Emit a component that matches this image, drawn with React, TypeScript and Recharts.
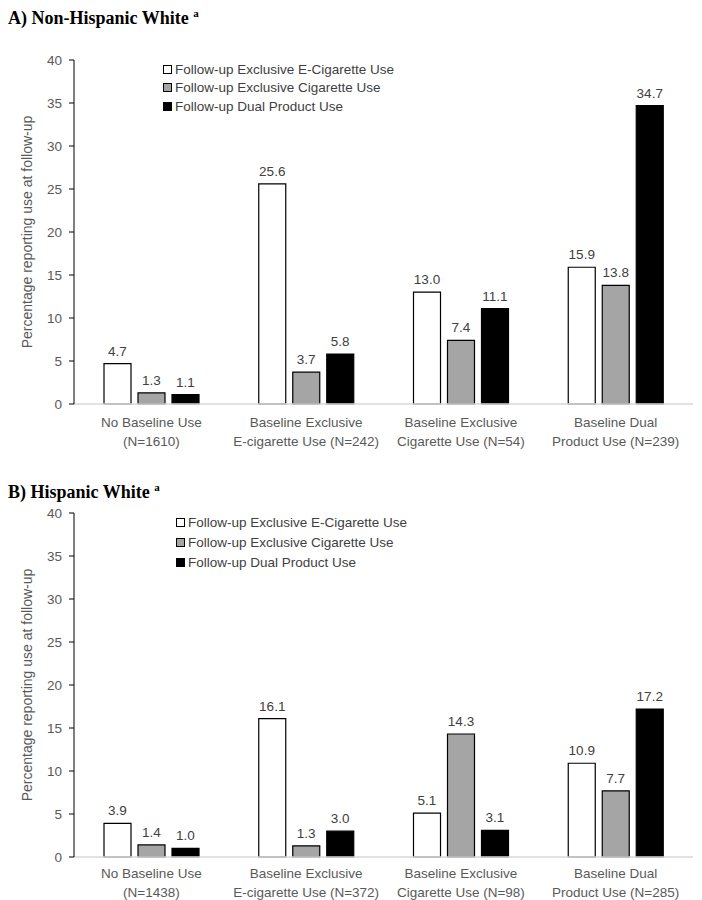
import React from "react";
import { BarChart, Bar, XAxis, YAxis, Legend, LabelList } from "recharts";

const seriesNames = [
  "Follow-up Exclusive E-Cigarette Use",
  "Follow-up Exclusive Cigarette Use",
  "Follow-up Dual Product Use",
];
const seriesKeys = ["ecig", "cig", "dual"];
const seriesFills = ["#ffffff", "#a5a5a5", "#000000"];

const yTicks = [0, 5, 10, 15, 20, 25, 30, 35, 40];

const categoriesA = [
  "No Baseline Use\n(N=1610)",
  "Baseline Exclusive\nE-cigarette Use (N=242)",
  "Baseline Exclusive\nCigarette Use (N=54)",
  "Baseline Dual\nProduct Use (N=239)",
];
const ecigA = [4.7, 25.6, 13.0, 15.9];
const cigA = [1.3, 3.7, 7.4, 13.8];
const dualA = [1.1, 5.8, 11.1, 34.7];

const categoriesB = [
  "No Baseline Use\n(N=1438)",
  "Baseline Exclusive\nE-cigarette Use (N=372)",
  "Baseline Exclusive\nCigarette Use (N=98)",
  "Baseline Dual\nProduct Use (N=285)",
];
const ecigB = [3.9, 16.1, 5.1, 10.9];
const cigB = [1.4, 1.3, 14.3, 7.7];
const dualB = [1.0, 3.0, 3.1, 17.2];

const FONT = '"Liberation Sans", Arial, Helvetica, sans-serif';

const buildRows = (cats: string[], a: number[], b: number[], c: number[]) =>
  cats.map((cat, i) => ({ cat, ecig: a[i], cig: b[i], dual: c[i] }));

const CatTick = ({ x, y, payload, firstDy }: any) => {
  const lines = String(payload.value).split("\n");
  return (
    <text x={x} y={y} textAnchor="middle" fill="#595959" fontSize={13.5} fontFamily={FONT}>
      {lines.map((l, i) => (
        <tspan key={i} x={x} dy={i === 0 ? firstDy : 18.5}>
          {l}
        </tspan>
      ))}
    </text>
  );
};

const LegendBox = ({ payload, rowH }: any) => {
  const items = [...(payload || [])].sort(
    (a: any, b: any) => seriesKeys.indexOf(a.dataKey) - seriesKeys.indexOf(b.dataKey)
  );
  return (
    <div style={{ fontFamily: FONT, fontSize: 13.5, color: "#404040" }}>
      {items.map((p: any, i: number) => (
        <div key={i} style={{ display: "flex", alignItems: "center", height: rowH }}>
          <span
            style={{
              width: 7,
              height: 7,
              border: "1px solid #000",
              background: seriesFills[seriesKeys.indexOf(p.dataKey)] ?? p.color,
              marginRight: 3,
              display: "inline-block",
            }}
          />
          <span>{p.value}</span>
        </div>
      ))}
    </div>
  );
};

const yLabel = (props: any) => {
  const vb = props.viewBox || {};
  const cy = vb.y + vb.height / 2;
  return (
    <text
      x={27}
      y={cy}
      transform={`rotate(-90, 27, ${cy})`}
      textAnchor="middle"
      dominantBaseline="central"
      fill="#595959"
      fontSize={14}
      fontFamily={FONT}
    >
      Percentage reporting use at follow-up
    </text>
  );
};

const Panel = ({ rows, height, bottom, legendLeft, legendTop, rowH, firstDy }: any) => (
  <BarChart
    width={702}
    height={height}
    data={rows}
    margin={{ top: 60, right: 9, left: 0, bottom }}
    barSize={27}
    barGap={7}
  >
    <XAxis
      dataKey="cat"
      axisLine={{ stroke: "#d9d9d9", strokeWidth: 1.5 }}
      tickLine={false}
      tick={<CatTick firstDy={firstDy} />}
      interval={0}
      height={40}
    />
    <YAxis
      domain={[0, 40]}
      ticks={yTicks}
      width={74}
      axisLine={{ stroke: "#000", strokeWidth: 1 }}
      tickLine={{ stroke: "#000" }}
      tickSize={5}
      tickMargin={7}
      tick={{ fill: "#595959", fontSize: 13.5, fontFamily: FONT }}
      label={yLabel}
    />
    <Legend
      layout="vertical"
      align="center"
      verticalAlign="middle"
      content={<LegendBox rowH={rowH} />}
      wrapperStyle={{ left: legendLeft, top: legendTop, width: 260 }}
    />
    {seriesKeys.map((k, i) => (
      <Bar
        key={k}
        dataKey={k}
        name={seriesNames[i]}
        fill={seriesFills[i]}
        stroke="#000"
        strokeWidth={1.2}
        isAnimationActive={false}
      >
        <LabelList
          dataKey={k}
          position="top"
          offset={8}
          formatter={(v: any) => Number(v).toFixed(1)}
          style={{ fill: "#404040", fontSize: 13.5, fontFamily: FONT }}
        />
      </Bar>
    ))}
  </BarChart>
);

const titleStyle: React.CSSProperties = {
  position: "absolute",
  left: 8,
  fontFamily: '"Liberation Serif", "Times New Roman", serif',
  fontWeight: "bold",
  fontSize: 18,
  lineHeight: "20px",
  color: "#000",
};

export default function App() {
  const rowsA = buildRows(categoriesA, ecigA, cigA, dualA);
  const rowsB = buildRows(categoriesB, ecigB, cigB, dualB);
  return (
    <div style={{ position: "fixed", left: 0, top: 0, width: 702, height: 900, background: "#fff", overflow: "hidden" }}>
      <div style={{ ...titleStyle, top: 3 }}>
        A) Non-Hispanic White <sup style={{ fontSize: 11 }}>a</sup>
      </div>
      <div style={{ position: "absolute", left: 0, top: 0 }}>
        <Panel rows={rowsA} height={453} bottom={9} legendLeft={163} legendTop={60} rowH={18.5} firstDy={15} />
      </div>
      <div style={{ ...titleStyle, top: 477 }}>
        B) Hispanic White <sup style={{ fontSize: 11 }}>a</sup>
      </div>
      <div style={{ position: "absolute", left: 0, top: 453 }}>
        <Panel rows={rowsB} height={447} bottom={3} legendLeft={176} legendTop={59} rowH={20} firstDy={13} />
      </div>
    </div>
  );
}
